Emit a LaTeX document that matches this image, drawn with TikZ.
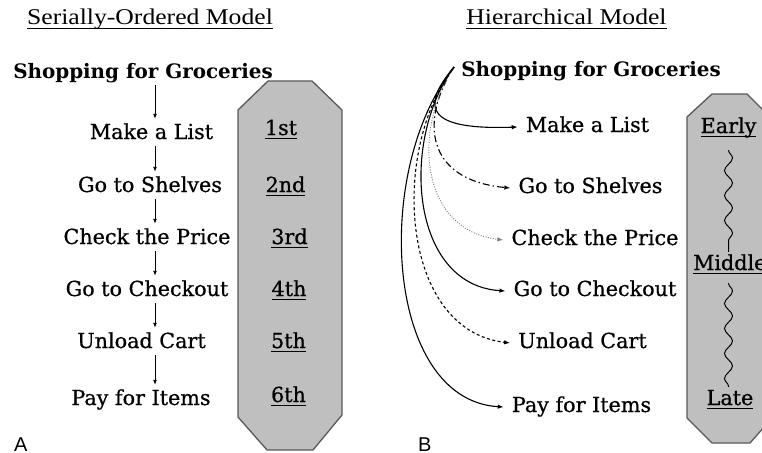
\documentclass[tikz,border=0pt]{standalone}
\usepackage{fontspec}
\setmainfont{DejaVu Serif}
\newfontfamily\itemfont[FakeBold=0.7]{DejaVu Serif}
\newfontfamily\titlefont[FakeStretch=1.14]{Liberation Serif}
\newfontfamily\labfont{Liberation Sans}
\newsavebox{\myulbox}
\newcommand{\myul}[1]{\sbox{\myulbox}{#1}\rlap{\rule[-4.3pt]{\wd\myulbox}{1.1pt}}\usebox{\myulbox}}
\usetikzlibrary{arrows.meta,decorations.pathmorphing}
\begin{document}
\begin{tikzpicture}[x=1pt,y=-1pt,
  ttl/.style={font=\titlefont\fontsize{22.5}{26}\selectfont, anchor=base, inner sep=0pt},
  head/.style={font=\bfseries\fontsize{19.9}{23}\selectfont, anchor=base, text height=15pt, text depth=5pt, inner sep=2pt},
  item/.style={font=\itemfont\fontsize{20.7}{24}\selectfont, anchor=base, text height=15pt, text depth=5pt, inner sep=2pt},
  ritem/.style={item, inner xsep=8pt},
  ord/.style={font=\itemfont\fontsize{20.7}{24}\selectfont, anchor=base, inner sep=0pt, text height=15pt, text depth=5pt},
  panel/.style={font=\labfont\fontsize{20}{24}\selectfont, anchor=base west, inner sep=0pt},
  octa/.style={fill=black!25, draw=black!65, line width=1.3pt, line join=round},
  sarr/.style={-{Latex[length=5pt,width=4pt]}, line width=0.9pt, shorten >=3pt},
  carr/.style={-{Latex[length=6pt,width=4.5pt]}, line width=1.1pt},
  dashdot/.style={carr, dash pattern=on 7pt off 3pt on 1.5pt off 3pt},
  dots/.style={carr, draw=black!50, line width=0.9pt, dash pattern=on 1pt off 1.5pt},
  shortdash/.style={carr, dash pattern=on 3pt off 2.5pt},
  wave/.style={line width=1pt, decorate, decoration={snake, amplitude=4pt, segment length=25pt}}
]
\useasboundingbox (0,0) rectangle (762,452);
\clip (0,0) rectangle (762,452);
\fill[white] (0,0) rectangle (762,452);

% ---------- Panel A ----------
\node[ttl] (titleA) at (150,25) {\myul{Serially-Ordered Model}};
\draw[octa] (268,81) -- (312,81) -- (342,110) -- (342,415) -- (313,450) -- (267,450) -- (238,417) -- (238,110) -- cycle;

\node[head] (shopA) at (143,78) {Shopping for Groceries};
\node[item] (makeA) at (151.5,139) {Make a List};
\node[item] (shelvesA) at (150,192) {Go to Shelves};
\node[item] (priceA) at (147,244) {Check the Price};
\node[item] (checkA) at (147,296) {Go to Checkout};
\node[item] (unloadA) at (141.5,348) {Unload Cart};
\node[item] (payA) at (141,405) {Pay for Items};

\coordinate (ax) at (155,0);
\draw[sarr] (shopA.south -| ax) -- (makeA.north -| ax);
\draw[sarr] (makeA.south -| ax) -- (shelvesA.north -| ax);
\draw[sarr] (shelvesA.south -| ax) -- (priceA.north -| ax);
\draw[sarr] (priceA.south -| ax) -- (checkA.north -| ax);
\draw[sarr] (checkA.south -| ax) -- (unloadA.north -| ax);
\draw[sarr] (unloadA.south -| ax) -- (payA.north -| ax);

\node[ord] (o1) at (281,135) {\myul{1st}};
\node[ord] (o2) at (285.5,192) {\myul{2nd}};
\node[ord] (o3) at (289.5,244) {\myul{3rd}};
\node[ord] (o4) at (289,296) {\myul{4th}};
\node[ord] (o5) at (288.5,348) {\myul{5th}};
\node[ord] (o6) at (288.5,402) {\myul{6th}};

\node[panel] (labA) at (14,451) {A};

% ---------- Panel B ----------
\node[ttl] (titleB) at (566.5,25) {\myul{Hierarchical Model}};
\draw[octa] (712,94) -- (747,94) -- (772,119) -- (772,418) -- (750,443) -- (712,443) -- (687,418) -- (687,117) -- cycle;

\node[head] (shopB) at (591,77) {Shopping for Groceries};
\node[ritem] (makeB) at (587.5,132) {Make a List};
\node[ritem] (shelvesB) at (590.5,193) {Go to Shelves};
\node[ritem] (priceB) at (595,245) {Check the Price};
\node[ritem] (checkB) at (595,296) {Go to Checkout};
\node[ritem] (unloadB) at (582.5,348) {Unload Cart};
\node[ritem] (payB) at (581.5,412) {Pay for Items};

\coordinate (orig) at ([shift={(-5pt,5pt)}]shopB.west);
\draw[carr] (orig) .. controls (418,110) and (430,130) .. (makeB.west);
\draw[dashdot] (orig) .. controls (420,120) and (425,180) .. (shelvesB.west);
\draw[dots] (orig) .. controls (412,130) and (420,230) .. (priceB.west);
\draw[carr] (orig) .. controls (400,140) and (410,285) .. (checkB.west);
\draw[shortdash] (orig) .. controls (390,150) and (400,330) .. (unloadB.west);
\draw[carr] (orig) .. controls (372,170) and (385,400) .. (payB.west);

\node[ord] (early) at (728.5,133) {\myul{Early}};
\node[ord, anchor=base west] (middle) at (693,270) {\myul{Middle}};
\node[ord] (late) at (730,405) {\myul{Late}};
\draw[wave] ([yshift=-12pt]early.south) -- ([yshift=3pt]early.south |- middle.north);
\draw[wave] ([yshift=-8pt]early.south |- middle.south) -- ([yshift=3pt]early.south |- late.north);

\node[panel] (labB) at (418,451) {B};
\end{tikzpicture}
\end{document}
